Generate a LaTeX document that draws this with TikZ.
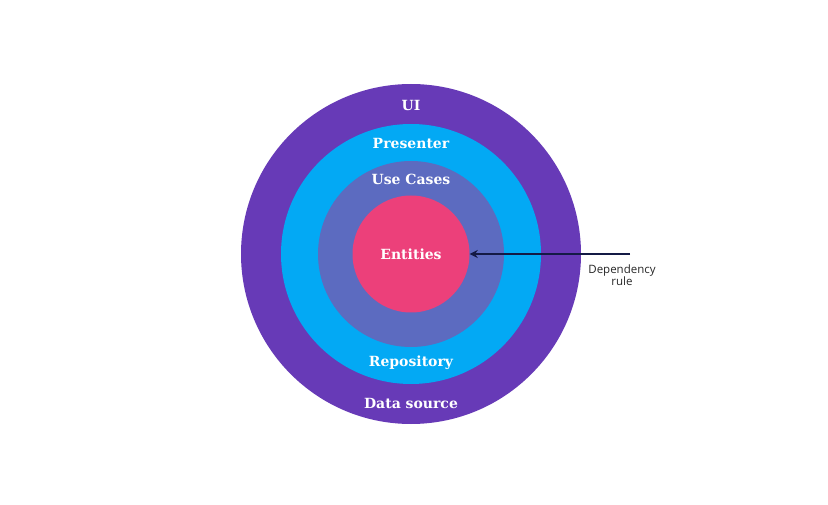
\documentclass[tikz,border=0pt]{standalone}
\usepackage{fontspec}
\setmainfont{DejaVu Serif}
\setsansfont{Open Sans}
\usetikzlibrary{arrows.meta}
\definecolor{uipurple}{HTML}{673AB7}
\definecolor{presblue}{HTML}{03A9F4}
\definecolor{caseindigo}{HTML}{5C6BC0}
\definecolor{entpink}{HTML}{EC407A}
\definecolor{rulenavy}{HTML}{141A45}
\tikzset{
  ring/.style={circle, draw=none, inner sep=0pt},
  layer/.style={text=white, font=\bfseries\fontsize{14}{16}\selectfont}
}

\begin{document}
\begin{tikzpicture}[x=1pt, y=1pt]
			%%%%% START %%%%%
			
			\useasboundingbox (0, 0) rectangle (828, 504);
			
			\node[ring, fill=uipurple, minimum size=340] (ui) at (411, 250) {};
			\node[ring, fill=presblue, minimum size=260] (pres) at (411, 250) {};
			\node[ring, fill=caseindigo, minimum size=186] (cases) at (411, 250) {};
			\node[ring, fill=entpink, minimum size=117] (ents) at (411, 250) {};
			
			\node[layer] at (411, 399) {UI};
			\node[layer] at (411, 361) {Presenter};
			\node[layer] at (411, 325) {Use Cases};
			\node[layer] at (411, 250) {Entities};
			\node[layer] at (411, 141) {Repository};
			\node[layer] at (411, 101) {Data source};
			
			\coordinate (rulestart) at (630, 250);
			\draw[line width=1.8, color=rulenavy, -{Stealth[length=8, width=8]}] (rulestart) -- (ents.east);
			
			\node[align=center, font=\sffamily\fontsize{11.5}{12.5}\selectfont, color=black!85] (rule) at (622, 229) {Dependency\\rule};
			
			%%%%% END %%%%%
		\end{tikzpicture}
\end{document}
